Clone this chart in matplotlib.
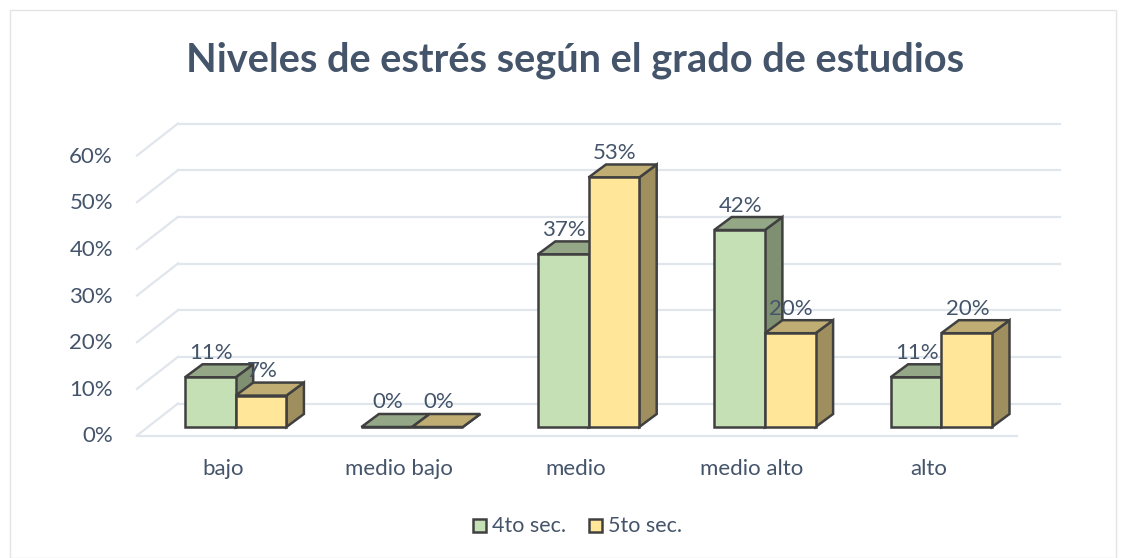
import numpy as np
import matplotlib
matplotlib.use("Agg")
import matplotlib.pyplot as plt
from matplotlib.patches import Polygon, Rectangle

categories = ['bajo', 'medio bajo', 'medio', 'medio alto', 'alto']
cuarto = [10.6, 0, 36.8, 42, 10.6]
quinto = [6.7, 0, 53.2, 20, 20]
series_names = ['4to sec.', '5to sec.']
ticks = [0, 10, 20, 30, 40, 50, 60]
title = 'Niveles de estrés según el grado de estudios'

W, H = 1126, 558
X0, STEP = 235.7, 176.4   # px of first category, px per category
Y0, PPV = 427.0, 4.69     # px of value 0 on the bar base, px per percent

TEXT = '#44546A'
GRID = '#E1E5EC'
EDGE = '#404040'
GREEN = ('#C5E0B4', '#94A888', '#7F8F72')
YELLOW = ('#FFE699', '#BFAD73', '#A08F5E')

plt.rcParams['font.family'] = ['Lato', 'DejaVu Sans']

# px lengths turned into data units, axes fill the whole figure
sx = 1 / STEP
sy = 1 / PPV
bar_w = 50.7 * sx
dx, dy = 17.5 * sx, 13 * sy
wall_dx, wall_dy = 41 * sx, 32 * sy

fig = plt.figure(figsize=(W / 100, H / 100), dpi=100)
ax = fig.add_axes([0, 0, 1, 1])
ax.set_xlim((0 - X0) / STEP, (W - X0) / STEP)
ax.set_ylim((Y0 - H) / PPV, Y0 / PPV)
ax.axis('off')


def xp(p):
    return (p - X0) / STEP


def yp(p):
    return (Y0 - p) / PPV


ax.add_patch(Rectangle((xp(10), yp(558)), 1106 * sx, 548 * sy, fc='white', ec='#E4E4E4', lw=1))

# walls and floor
floor = yp(435.5)
left, right = xp(137), xp(1017)
for t in ticks:
    y = floor + t * 0.995
    ax.plot([left, left + wall_dx], [y, y + wall_dy], color=GRID, lw=1.6, zorder=1)
    ax.plot([left + wall_dx, xp(1060)], [y + wall_dy, y + wall_dy], color=GRID, lw=1.6, zorder=1)
    ax.text(xp(113), y - 1 * sy, '%d%%' % t, ha='right', va='center', fontsize=16, color=TEXT)
ax.plot([left, right], [floor, floor], color=GRID, lw=1.6, zorder=1)


def draw_bar(x, v, cols, z):
    ax.add_patch(Polygon([(x + bar_w, 0), (x + bar_w + dx, dy), (x + bar_w + dx, v + dy), (x + bar_w, v)],
                         facecolor=cols[2], edgecolor=EDGE, lw=1.8, zorder=z))
    ax.add_patch(Polygon([(x, v), (x + dx, v + dy), (x + bar_w + dx, v + dy), (x + bar_w, v)],
                         facecolor=cols[1], edgecolor=EDGE, lw=1.8, zorder=z))
    ax.add_patch(Polygon([(x, 0), (x + bar_w, 0), (x + bar_w, v), (x, v)],
                         facecolor=cols[0], edgecolor=EDGE, lw=1.8, zorder=z))
    ax.text(x + bar_w / 2 + 1 * sx, v + dy + 1.5 * sy, '%.0f%%' % v, ha='center', va='bottom',
            fontsize=16, color=TEXT, zorder=10)


for i, name in enumerate(categories):
    draw_bar(i - bar_w, cuarto[i], GREEN, 3 + i)
    draw_bar(i, quinto[i], YELLOW, 3.5 + i)
    ax.text(i - 13 * sx, yp(469), name, ha='center', va='center', fontsize=16, color=TEXT)

# legend
for px, cols, name in zip([472.5, 588.5], [GREEN, YELLOW], series_names):
    ax.add_patch(Rectangle((xp(px), yp(532)), 13.5 * sx, 13.5 * sy, fc=cols[0], ec=EDGE, lw=1.8))
    ax.text(xp(px + 19), yp(525.5), name, ha='left', va='center', fontsize=15.5, color=TEXT)

ax.text(xp(575), yp(60.5), title, ha='center', va='center', fontsize=28.6, fontweight='bold', color=TEXT)

fig.savefig('out.png', dpi=100)
